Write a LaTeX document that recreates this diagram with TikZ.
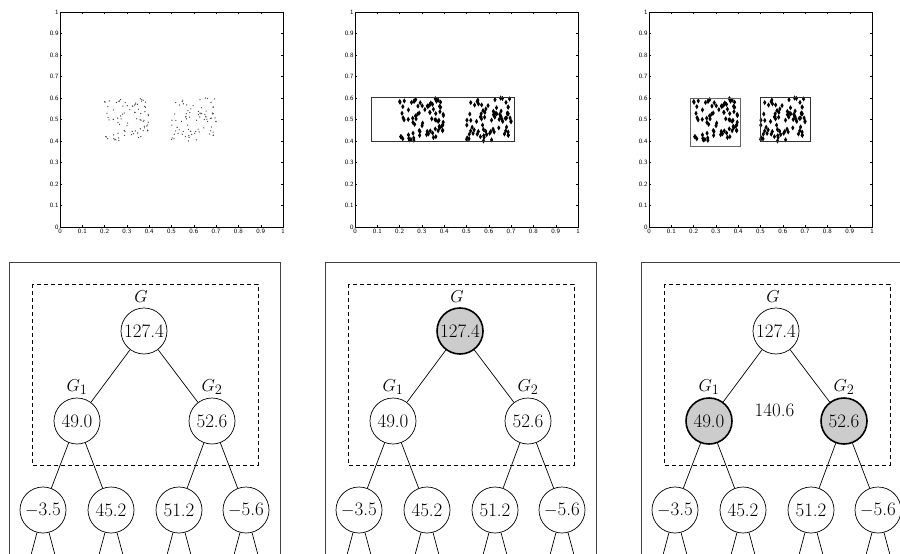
\documentclass[tikz,border=0pt]{standalone}
\tikzset{
 tnode/.style={circle, draw, line width=0.7pt, minimum size=46pt, inner sep=0pt, font=\fontsize{19}{21}\selectfont, fill=white},
 hinode/.style={fill=black!20, line width=1.6pt},
 glabel/.style={font=\fontsize{19}{21}\selectfont, inner sep=0pt},
 edge/.style={line width=0.7pt},
 panelbox/.style={line width=0.9pt, black!75},
 dashbox/.style={line width=0.7pt, dash pattern=on 4pt off 3pt},
 axisbox/.style={line width=1pt},
 tickmark/.style={line width=0.4pt},
 ticklab/.style={font=\sffamily\fontsize{6.5}{7}\selectfont, inner sep=0pt},
 selbox/.style={line width=0.8pt, black!80},
}
\newcommand\myscatter[1]{%
 \pgfmathsetseed{4711}%
 \foreach \i in {1,...,80}{\pgfmathsetmacro\px{0.2+0.2*rnd}\pgfmathsetmacro\py{0.4+0.2*rnd}#1}%
 \foreach \i in {1,...,80}{\pgfmathsetmacro\px{0.5+0.2*rnd}\pgfmathsetmacro\py{0.4+0.2*rnd}#1}%
}
\newcommand\mydot{\fill[black!80] (\px,\py) circle (0.65pt);}
\newcommand\mydiam{\fill (\px,\py) ++(0,2.6pt) -- ++(1.6pt,-2.6pt) -- ++(-1.6pt,-2.6pt) -- ++(-1.6pt,2.6pt) -- cycle;}
\newcommand\myaxes[1]{%
 \draw[axisbox] (0,0) rectangle (1,1);
 \foreach \k in {1,...,9}{
  \draw[tickmark] (\k/10,0) -- ++(0,2pt);
  \draw[tickmark] (\k/10,1) -- ++(0,-2pt);
  \draw[tickmark] (0,\k/10) -- ++(2pt,0);
  \draw[tickmark] (1,\k/10) -- ++(-2pt,0);
 }
 \foreach \k/\l in {0/0,1/0.1,2/0.2,3/0.3,4/0.4,5/0.5,6/0.6,7/0.7,8/0.8,9/0.9,10/1}{
  \node[ticklab, anchor=north] (#1x\k) at ([yshift=-2pt]\k/10,0) {\l};
  \node[ticklab, anchor=east] (#1y\k) at ([xshift=-1.2pt]0,\k/10) {\l};
 }
}
\newcommand\mytreepanel[5]{%
\begin{scope}[xshift=#2pt]
 \draw[panelbox] (9,600) -- (9,262) -- (280,262) -- (280,600);
 \draw[dashbox] (32,284) rectangle (258,465);
 \node[tnode,#3] (#1r) at (144,331) {127.4};
 \node[tnode,#4] (#1a) at (77,421) {49.0};
 \node[tnode,#4] (#1b) at (212,421) {52.6};
 \node[tnode] (#1c) at (43,510) {$-$3.5};
 \node[tnode] (#1d) at (111,510) {45.2};
 \node[tnode] (#1e) at (179,510) {51.2};
 \node[tnode] (#1f) at (246,510) {$-$5.6};
 \node[glabel] (#1gl) at (141,297) {$G$};
 \node[glabel] (#1gla) at (77,387) {$G_1$};
 \node[glabel] (#1glb) at (212,387) {$G_2$};
 \draw[edge] (#1r) -- (#1a);
 \draw[edge] (#1r) -- (#1b);
 \draw[edge] (#1a) -- (#1c);
 \draw[edge] (#1a) -- (#1d);
 \draw[edge] (#1b) -- (#1e);
 \draw[edge] (#1b) -- (#1f);
 \foreach \n/\xx in {c/43,d/111,e/179,f/246}{
  \coordinate (#1\n L) at (\xx-24,600);
  \coordinate (#1\n R) at (\xx+24,600);
  \draw[edge] (#1\n) -- (#1\n L);
  \draw[edge] (#1\n) -- (#1\n R);
 }
 #5
\end{scope}}
\begin{document}
\begin{tikzpicture}[x=1pt,y=-1pt]
\useasboundingbox (0,0) rectangle (900,554);
\clip (0,0) rectangle (900,554);
\fill[white] (0,0) rectangle (900,554);
% top plots
\begin{scope}[shift={(60,227)}, x=223pt, y=215pt]
 \myscatter{\mydot}
 \myaxes{p}
\end{scope}
\begin{scope}[shift={(355,227)}, x=223pt, y=215pt]
 \myscatter{\mydiam}
 \draw[selbox] (0.075,0.4) rectangle (0.713,0.603);
 \myaxes{q}
\end{scope}
\begin{scope}[shift={(649,227)}, x=223pt, y=215pt]
 \myscatter{\mydiam}
 \draw[selbox, black!60, line width=1pt] (0.187,0.374) rectangle (0.41,0.597);
 \draw[selbox] (0.499,0.4) rectangle (0.723,0.603);
 \myaxes{s}
\end{scope}
% bottom panels
\mytreepanel{A}{0}{}{}{}
\mytreepanel{B}{316}{hinode}{}{}
\mytreepanel{C}{632}{}{hinode}{\node[glabel] (Ctot) at (142.5,410) {140.6};}
\end{tikzpicture}
\end{document}
